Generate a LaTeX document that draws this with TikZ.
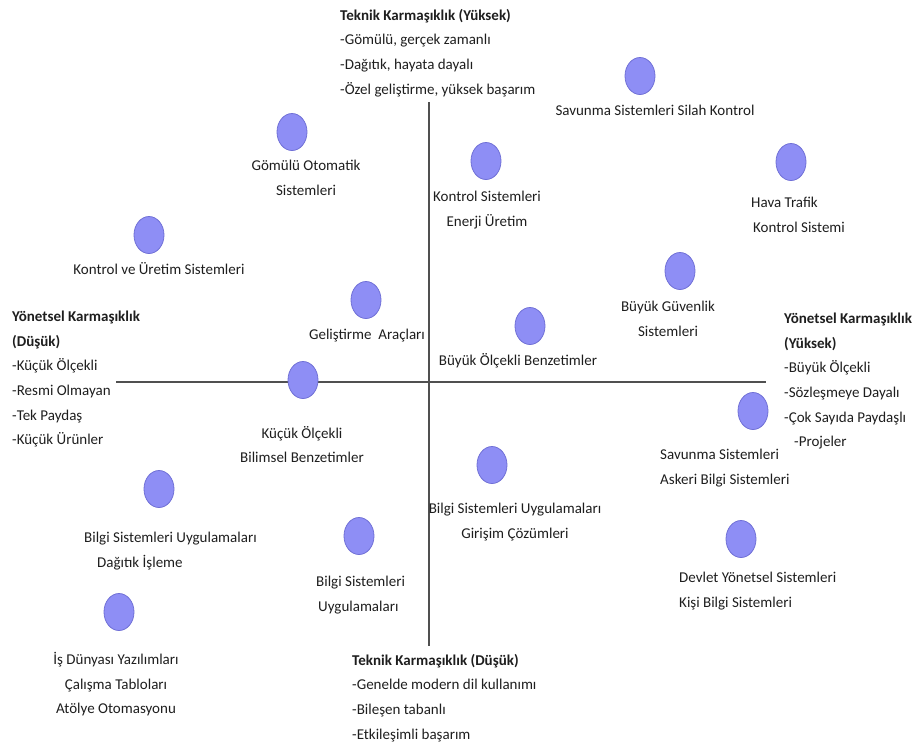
\documentclass[tikz,border=0pt]{standalone}
\usepackage{fontspec}
\setmainfont{Carlito}
\usepackage{xcolor}
\usepackage{tikz}
\usetikzlibrary{positioning,shapes.geometric}
\definecolor{DotFill}{HTML}{8E8EF5}
\definecolor{DotLine}{HTML}{7070D6}
\definecolor{AxisGray}{HTML}{505050}
\definecolor{InkBlack}{HTML}{1E1E1E}

\begin{document}
\begin{tikzpicture}[x=1pt,y=-1pt,
    dot/.style={ellipse,fill=DotFill,draw=DotLine,line width=0.8pt,minimum width=30pt,minimum height=37pt,inner sep=0pt},
    lbl/.style={text=InkBlack,font=\fontsize{15}{24.6}\selectfont,inner sep=0pt,execute at begin node={\rule{0pt}{14pt}}},
    axis/.style={AxisGray,line width=1.6pt}]
  \useasboundingbox (0,0) rectangle (920,748);
  % axes
  \coordinate (top) at (429,102);
  \coordinate (bottom) at (429,646);
  \coordinate (left) at (116,382);
  \coordinate (right) at (766,382);
  \draw[axis] (top) -- (bottom);
  \draw[axis] (left) -- (right);
  % axis captions
  \node[lbl,anchor=north west,align=left] (techhigh) at (340,9) {%
    \textbf{Teknik Karmaşıklık (Yüksek)}\\
    -Gömülü, gerçek zamanlı\\
    -Dağıtık, hayata dayalı\\
    -Özel geliştirme, yüksek başarım};
  \node[lbl,anchor=north west,align=left] (techlow) at (352,654) {%
    \textbf{Teknik Karmaşıklık (Düşük)}\\
    -Genelde modern dil kullanımı\\
    -Bileşen tabanlı\\
    -Etkileşimli başarım};
  \node[lbl,anchor=north west,align=left] (mgmtlow) at (12,311) {%
    \textbf{Yönetsel Karmaşıklık}\\
    \textbf{(Düşük)}\\
    -Küçük Ölçekli\\
    -Resmi Olmayan\\
    -Tek Paydaş\\
    -Küçük Ürünler};
  \node[lbl,anchor=north west,align=left] (mgmthigh) at (784,313) {%
    \textbf{Yönetsel Karmaşıklık}\\
    \textbf{(Yüksek)}\\
    -Büyük Ölçekli\\
    -Sözleşmeye Dayalı\\
    -Çok Sayıda Paydaşlı\\
    \hspace*{10pt}-Projeler};
  % upper left
  \node[dot] (embdot) at (292,132) {};
  \node[lbl,anchor=north,align=center] (emb) at (306,160) {Gömülü Otomatik\\Sistemleri};
  \node[dot] (prodot) at (149,235) {};
  \node[lbl,anchor=north,align=center] (pro) at (159,260) {Kontrol ve Üretim Sistemleri};
  \node[dot] (tooldot) at (366,300) {};
  \node[lbl,anchor=north,align=center] (tool) at (367,325) {Geliştirme\ \ Araçları};
  % upper right
  \node[dot] (energydot) at (486,161) {};
  \node[lbl,anchor=north,align=center] (energy) at (487,191) {Kontrol Sistemleri\\Enerji Üretim};
  \node[dot] (weapondot) at (640,76) {};
  \node[lbl,anchor=north,align=center] (weapon) at (655,101) {Savunma Sistemleri Silah Kontrol};
  \node[dot] (airdot) at (791,162) {};
  \node[lbl,anchor=north west,align=left] (air) at (751,197) {Hava Trafik\\\hspace*{2pt}Kontrol Sistemi};
  \node[dot] (secdot) at (680,271) {};
  \node[lbl,anchor=north,align=center] (sec) at (668,301) {Büyük Güvenlik\\Sistemleri};
  \node[dot] (bigsimdot) at (530,326) {};
  \node[lbl,anchor=north,align=center] (bigsim) at (518,351) {Büyük Ölçekli Benzetimler};
  % lower left
  \node[dot] (smallsimdot) at (303,380) {};
  \node[lbl,anchor=north,align=center] (smallsim) at (302,426) {Küçük Ölçekli\\Bilimsel Benzetimler};
  \node[dot] (distdot) at (159,489) {};
  \node[lbl,anchor=north west,align=left] (dist) at (84,532) {Bilgi Sistemleri Uygulamaları\\\hspace*{13pt}Dağıtık İşleme};
  \node[dot] (isappdot) at (359,536) {};
  \node[lbl,anchor=north west,align=left] (isapp) at (316,576) {Bilgi Sistemleri\\\hspace*{2pt}Uygulamaları};
  \node[dot] (bizdot) at (119,612) {};
  \node[lbl,anchor=north,align=center] (biz) at (116,652) {İş Dünyası Yazılımları\\Çalışma Tabloları\\Atölye Otomasyonu};
  % lower right
  \node[dot] (entdot) at (492,465) {};
  \node[lbl,anchor=north,align=center] (ent) at (515,503) {Bilgi Sistemleri Uygulamaları\\Girişim Çözümleri};
  \node[dot] (milidot) at (753,411) {};
  \node[lbl,anchor=north west,align=left] (mili) at (660,449) {Savunma Sistemleri\\Askeri Bilgi Sistemleri};
  \node[dot] (govdot) at (741,539) {};
  \node[lbl,anchor=north west,align=left] (gov) at (679,572) {Devlet Yönetsel Sistemleri\\Kişi Bilgi Sistemleri};
\end{tikzpicture}
\end{document}
